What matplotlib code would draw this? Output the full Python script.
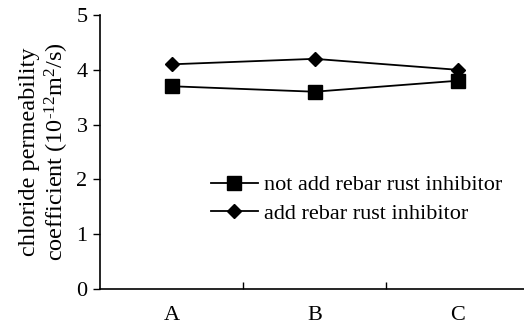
import matplotlib
matplotlib.use("Agg")
import matplotlib.pyplot as plt
from matplotlib.ticker import FixedLocator

categories = ["A", "B", "C"]
not_add = [3.7, 3.6, 3.8]
add = [4.1, 4.2, 4.0]
yticks = [0, 1, 2, 3, 4, 5]

plt.rcParams['font.family'] = ['Liberation Serif', 'DejaVu Serif']
plt.rcParams['mathtext.fontset'] = 'custom'
plt.rcParams['mathtext.rm'] = 'Liberation Serif'
plt.rcParams['mathtext.it'] = 'Liberation Serif:italic'

fig = plt.figure(figsize=(5.24, 3.24), dpi=100)
ax = fig.add_axes([100/524, 35/324, 429/524, 274/324])
x = list(range(len(categories)))
ax.plot(x, not_add, color='black', lw=1.3, marker='s', markersize=9.5, label='not add rebar rust inhibitor')
ax.plot(x, add, color='black', lw=1.3, marker='D', markersize=7, label='add rebar rust inhibitor')

ax.set_xlim(-0.5, 2.5)
ax.set_ylim(0, 5)
ax.set_yticks(yticks)
ax.set_xticks(x)
ax.set_xticklabels(categories)
ax.xaxis.set_minor_locator(FixedLocator([0.5, 1.5]))
ax.tick_params(axis='x', which='major', length=0, pad=12, labelsize=16)
ax.tick_params(axis='x', which='minor', direction='in', length=5, width=1)
ax.tick_params(axis='y', direction='out', length=5, width=1, labelsize=16, pad=4)
for s in ['top', 'right']:
    ax.spines[s].set_visible(False)
for s in ['left', 'bottom']:
    ax.spines[s].set_linewidth(1.2)

ax.set_ylabel('chloride permeability\ncoefficient (10$^{\\mathrm{\\text{-}12}}$m$^{2}$/s)', fontsize=17.5,
              linespacing=1.12, labelpad=4)

leg = ax.legend(loc='upper left', bbox_to_anchor=(0.259, 0.417), frameon=False, fontsize=16,
                handlelength=2.1, handletextpad=0.3, labelspacing=0.37, borderaxespad=0, borderpad=0)

fig.savefig('out.png', dpi=100)
